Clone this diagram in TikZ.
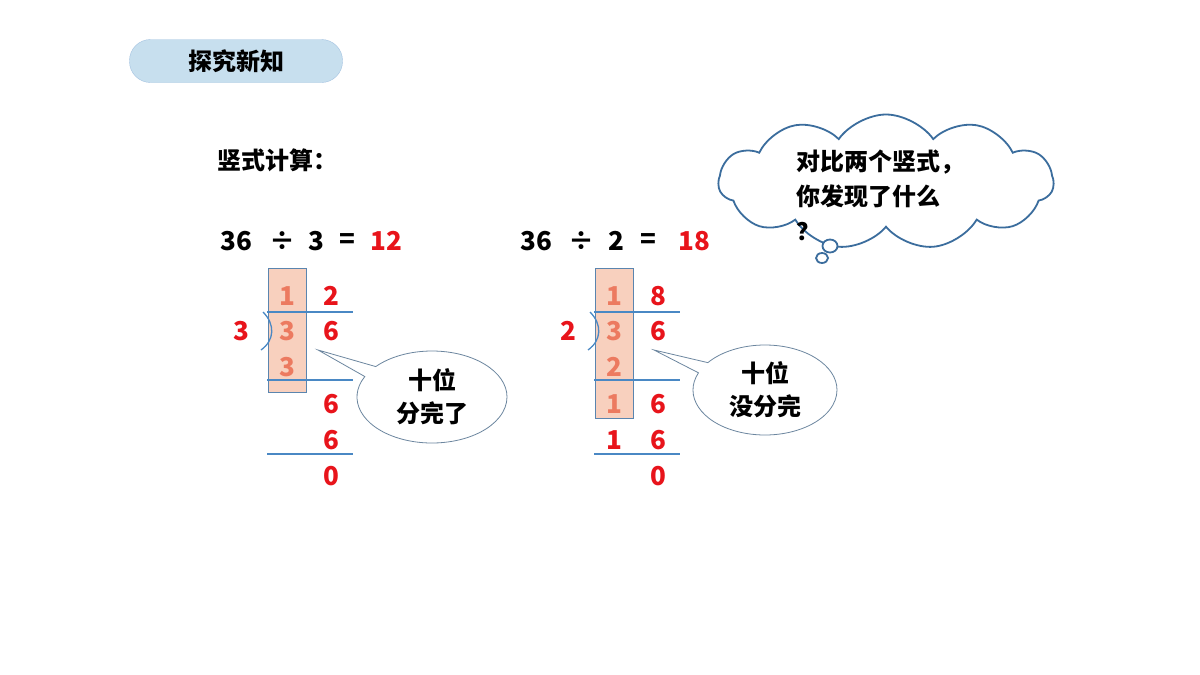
\documentclass[tikz,border=0pt]{standalone}
\usepackage{fontspec}
\setmainfont{Noto Sans CJK SC}
\newfontfamily\cjk{Noto Sans CJK SC}
\usetikzlibrary{shapes.symbols,shapes.callouts,shapes.geometric}
\definecolor{myred}{HTML}{E8141B}
\definecolor{salm}{HTML}{EC7A60}
\definecolor{boxf}{HTML}{F8D0BE}
\definecolor{lineb}{HTML}{4A88C4}
\definecolor{pill}{HTML}{C7DFEE}
\tikzset{
 dig/.style={font=\fontsize{26}{26}\selectfont\bfseries, inner sep=0pt},
 rd/.style={dig, text=myred},
 sa/.style={dig, text=salm},
 bk/.style={dig, text=black},
 hl/.style={draw=lineb, line width=1.5pt},
 ctext/.style={font=\fontsize{24}{33}\selectfont\bfseries, align=center},
}
\begin{document}
\begin{tikzpicture}[x=1pt,y=-1pt]
\useasboundingbox (0,0) rectangle (1200,675);
\fill[white] (0,0) rectangle (1200,675);
% title
\node[draw=lineb!50, fill=pill, rounded corners=21pt, minimum width=213pt, minimum height=43pt, font=\fontsize{24}{24}\selectfont\bfseries] (title) at (236,61) {探究新知};
\node[anchor=west, font=\fontsize{24}{24}\selectfont\bfseries] (head) at (214,160) {竖式计算：};
% equations
\node[bk] (a1) at (236,241) {36}; \node[bk] (a2) at (282,241) {÷}; \node[bk] (a3) at (316,241) {3};
\node[bk] (a4) at (347,241) {=}; \node[rd] (a5) at (386,241) {12};
\node[bk] (b1) at (536,241) {36}; \node[bk] (b2) at (581,241) {÷}; \node[bk] (b3) at (616,241) {2};
\node[bk] (b4) at (648,241) {=}; \node[rd] (b5) at (694,241) {18};
% left division
\node[draw=lineb!70!gray, fill=boxf, minimum width=38pt, minimum height=124pt, inner sep=0pt] (lbox) at (287,330) {};
\coordinate (l1a) at (267,312); \coordinate (l1b) at (353,312);
\coordinate (l2a) at (267,380); \coordinate (l2b) at (353,380);
\coordinate (l3a) at (267,454); \coordinate (l3b) at (353,454);
\draw[hl] (l1a) -- (l1b); \draw[hl] (l2a) -- (l2b); \draw[hl] (l3a) -- (l3b);
\node[sa] (lq1) at (287,296) {1}; \node[sa] (ld1) at (287,331) {3}; \node[sa] (ls1) at (287,367) {3};
\node[rd] (lq2) at (331,296) {2}; \node[rd] (ld2) at (331,331) {6}; \node[rd] (lr1) at (331,404) {6};
\node[rd] (lr2) at (331,440) {6}; \node[rd] (lr3) at (331,476) {0};
\node[rd] (ldv) at (241,331) {3};
\draw[lineb, line width=1.3pt] (263,312) .. controls (275,324) and (275,340) .. (261,350);
\coordinate (lp) at (318,350);
\node[ellipse callout, draw=lineb!60!black!70, line width=0.8pt, fill=white, minimum width=150pt, minimum height=92pt, callout absolute pointer=(lp), ctext] (lc) at (432,397) {十位\\分完了};
% right division
\node[draw=lineb!70!gray, fill=boxf, minimum width=38pt, minimum height=150pt, inner sep=0pt] (rbox) at (614,343) {};
\coordinate (r1a) at (594,312); \coordinate (r1b) at (680,312);
\coordinate (r2a) at (594,380); \coordinate (r2b) at (680,380);
\coordinate (r3a) at (594,454); \coordinate (r3b) at (680,454);
\draw[hl] (r1a) -- (r1b); \draw[hl] (r2a) -- (r2b); \draw[hl] (r3a) -- (r3b);
\node[sa] (rq1) at (614,296) {1}; \node[sa] (rd1) at (614,331) {3}; \node[sa] (rs1) at (614,367) {2}; \node[sa] (rr0) at (614,404) {1};
\node[rd] (rq2) at (658,296) {8}; \node[rd] (rd2) at (658,331) {6}; \node[rd] (rr1) at (658,404) {6};
\node[rd] (rr2) at (658,440) {6}; \node[rd] (rr3) at (658,476) {0}; \node[rd] (rs2) at (614,440) {1};
\node[rd] (rdv) at (568,331) {2};
\draw[lineb, line width=1.3pt] (590,312) .. controls (602,324) and (602,340) .. (588,350);
\coordinate (rp) at (654,350);
\node[ellipse callout, draw=lineb!60!black!70, line width=0.8pt, fill=white, minimum width=144pt, minimum height=90pt, callout absolute pointer=(rp), ctext] (rc) at (765,390) {十位\\没分完};
% cloud
\node[cloud, cloud puffs=11, cloud puff arc=110, aspect=2.4, draw=lineb!80!black, line width=1.8pt, fill=white, minimum width=335pt, minimum height=135pt] (cl) at (886,182) {};
\node[anchor=west, font=\fontsize{24}{35}\selectfont\bfseries, align=left] (ct) at (793,195) {对比两个竖式，\\你发现了什么\\？};
\node[draw=lineb!80!black, line width=1.8pt, ellipse, minimum width=15pt, minimum height=13pt, fill=white] (cb1) at (830,246) {};
\node[draw=lineb!80!black, line width=1.8pt, ellipse, minimum width=12pt, minimum height=10pt, fill=white] (cb2) at (822,258) {};
\end{tikzpicture}
\end{document}
